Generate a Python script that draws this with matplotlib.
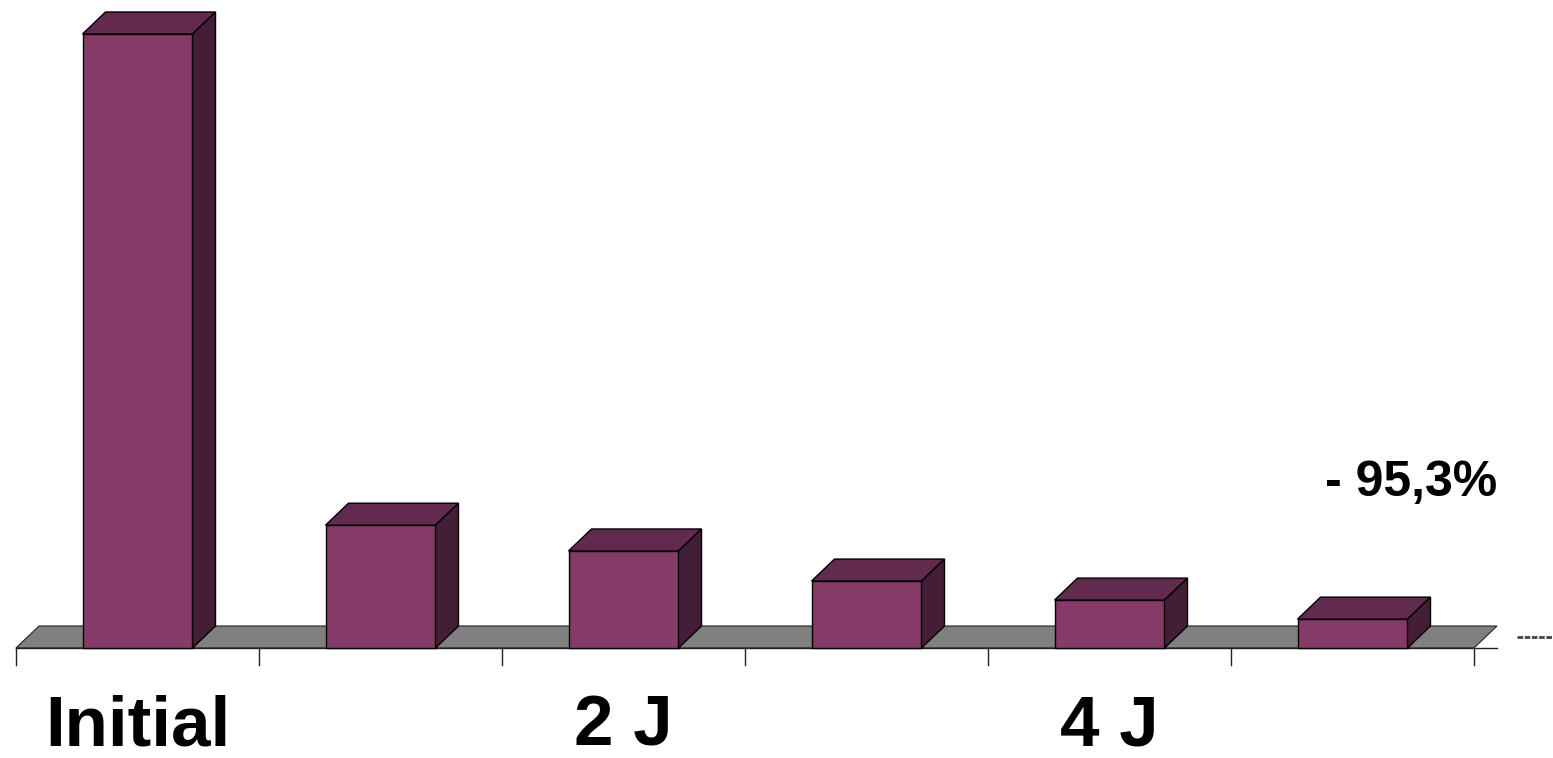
import matplotlib
matplotlib.use("Agg")
import matplotlib.pyplot as plt
from matplotlib.patches import Polygon
from matplotlib.lines import Line2D

# Relative level at each time point (initial = 100)
categories = ["Initial", "", "2 J", "", "4 J", ""]
values = [100, 20.0, 15.8, 10.9, 7.8, 4.7]

FRONT = "#853A67"
TOP = "#632A4F"
SIDE = "#441E37"
FLOOR = "#808080"
FONT = "Liberation Sans"

W, H, DPI = 1553, 758, 100
fig = plt.figure(figsize=(W / DPI, H / DPI), dpi=DPI)
fig.patch.set_facecolor("white")

# axes spans the floor's front edge; value scale so 100 sits near the top
left_px, right_px, base_px = 16, 1474, 648
ax = fig.add_axes([left_px / W, (H - base_px) / H,
                   (right_px - left_px) / W, base_px / H])
n = len(values)
ax.set_xlim(-0.5, n - 0.5)
ymax = 100 * base_px / 614
ax.set_ylim(0, ymax)
ax.axis("off")

# depth offset of the 3D extrusion, in data units
px_per_x = (right_px - left_px) / n
px_per_y = base_px / ymax
dx = 23 / px_per_x
dy = 22 / px_per_y
bw = 110 / px_per_x

# floor
floor = Polygon([(-0.5, 0), (n - 0.5, 0), (n - 0.5 + dx, dy), (-0.5 + dx, dy)],
                closed=True, facecolor=FLOOR, edgecolor="#222222", lw=0.8,
                clip_on=False, zorder=1)
ax.add_patch(floor)

# axis line and category separators
ax.add_line(Line2D([-0.5, n - 0.5 + dx], [0, 0], color="#222222", lw=1.0,
                   clip_on=False, zorder=2))
tick_len = 17 / px_per_y
for i in range(n + 1):
    ax.add_line(Line2D([i - 0.5, i - 0.5], [0, -tick_len], color="#222222",
                       lw=1.0, clip_on=False, zorder=2))

# bars drawn as extruded boxes
for i, v in enumerate(values):
    x0, x1 = i - bw / 2, i + bw / 2
    front = Polygon([(x0, 0), (x1, 0), (x1, v), (x0, v)], closed=True,
                    facecolor=FRONT, edgecolor="black", lw=1.0, zorder=3,
                    clip_on=False)
    top = Polygon([(x0, v), (x1, v), (x1 + dx, v + dy), (x0 + dx, v + dy)],
                  closed=True, facecolor=TOP, edgecolor="black", lw=1.0,
                  zorder=3, clip_on=False)
    side = Polygon([(x1, 0), (x1 + dx, dy), (x1 + dx, v + dy), (x1, v)],
                   closed=True, facecolor=SIDE, edgecolor="black", lw=1.0,
                   zorder=3, clip_on=False)
    for p in (front, top, side):
        ax.add_patch(p)

# category labels
label_y = -(745 - base_px) / px_per_y
for i, lab in enumerate(categories):
    if lab:
        ax.text(i, label_y, lab, ha="center", va="baseline", fontsize=51,
                fontweight="bold", family=FONT, clip_on=False)

# overall change from the first to the last time point
change = (values[-1] / values[0] - 1) * 100
txt = "- " + f"{abs(change):.1f}".replace(".", ",") + "%"
ax.text((1411.5 - left_px) / px_per_x - 0.5, (base_px - 496) / px_per_y, txt,
        ha="center", va="baseline", fontsize=36, fontweight="bold",
        family=FONT, clip_on=False)

# small legend key at the right edge
fig.add_artist(Line2D([1517 / W, 1553 / W], [(H - 637) / H, (H - 637) / H],
                      color="#444444", lw=2.0, dashes=(2, 0.6)))

fig.savefig("out.png", dpi=DPI)
